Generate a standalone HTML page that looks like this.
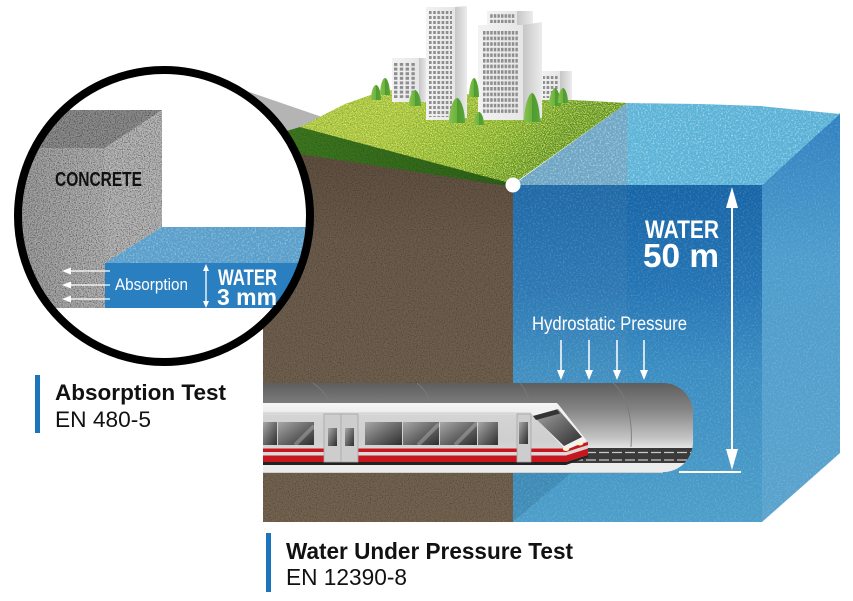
<!DOCTYPE html>
<html><head><meta charset="utf-8">
<style>
html,body{margin:0;padding:0;background:#fff;}
svg{display:block;}
text{font-family:"Liberation Sans",Arial,sans-serif;}
</style></head><body>
<svg width="853" height="601" viewBox="0 0 853 601" xmlns="http://www.w3.org/2000/svg">
<defs>
  <clipPath id="cc"><circle cx="164" cy="216" r="146"/></clipPath>
  <clipPath id="tc"><path d="M263,383 H663 A30,30 0 0 1 693,413 V442 A30,30 0 0 1 663,472 H263 Z"/></clipPath>
  <filter id="gd"><feTurbulence type="fractalNoise" baseFrequency="0.85" numOctaves="2" seed="4"/><feColorMatrix type="matrix" values="0 0 0 0 0  0 0 0 0 0  0 0 0 0 0  2.2 0 0 0 -0.95"/><feComposite operator="in" in2="SourceGraphic"/></filter>
  <filter id="gl"><feTurbulence type="fractalNoise" baseFrequency="0.6" numOctaves="2" seed="9"/><feColorMatrix type="matrix" values="0 0 0 0 1  0 0 0 0 1  0 0 0 0 1  2.4 0 0 0 -1.15"/><feComposite operator="in" in2="SourceGraphic"/></filter>
  <filter id="gy"><feTurbulence type="fractalNoise" baseFrequency="0.9" numOctaves="2" seed="7"/><feColorMatrix type="matrix" values="0 0 0 0 0.85  0 0 0 0 0.9  0 0 0 0 0.2  3 0 0 0 -1.2"/><feComposite operator="in" in2="SourceGraphic"/></filter>

  <linearGradient id="grassTop" x1="420" y1="95" x2="513" y2="185" gradientUnits="userSpaceOnUse">
    <stop offset="0" stop-color="#a2c53a"/><stop offset="0.6" stop-color="#82b42c"/><stop offset="1" stop-color="#5b9624"/>
  </linearGradient>
  <linearGradient id="grassBand" x1="0" y1="0" x2="1" y2="0">
    <stop offset="0" stop-color="#3f7b20"/><stop offset="1" stop-color="#2f6219"/>
  </linearGradient>
  <linearGradient id="soil" x1="0" y1="0" x2="0" y2="1">
    <stop offset="0" stop-color="#5e4e3e"/><stop offset="0.25" stop-color="#6c5c4c"/><stop offset="1" stop-color="#756451"/>
  </linearGradient>
  <linearGradient id="wFront" x1="0" y1="185" x2="0" y2="522" gradientUnits="userSpaceOnUse">
    <stop offset="0" stop-color="#1664a6"/><stop offset="0.3" stop-color="#2474b4"/><stop offset="0.55" stop-color="#3a8dc2"/><stop offset="1" stop-color="#4c9ec9"/>
  </linearGradient>
  <linearGradient id="wSide" x1="0" y1="113" x2="0" y2="522" gradientUnits="userSpaceOnUse">
    <stop offset="0" stop-color="#2f80c0"/><stop offset="0.35" stop-color="#4d9ccc"/><stop offset="1" stop-color="#5aa3cd"/>
  </linearGradient>
  <linearGradient id="wTop" x1="513" y1="0" x2="840" y2="0" gradientUnits="userSpaceOnUse">
    <stop offset="0" stop-color="#6ba3c2"/><stop offset="0.348" stop-color="#6fa8c6"/><stop offset="0.352" stop-color="#5cb4d8"/><stop offset="1" stop-color="#58b0d6"/>
  </linearGradient>
  <linearGradient id="tun" x1="0" y1="383" x2="0" y2="472" gradientUnits="userSpaceOnUse">
    <stop offset="0" stop-color="#5e5e5e"/><stop offset="0.3" stop-color="#858585"/><stop offset="0.62" stop-color="#c4c4c4"/><stop offset="0.72" stop-color="#e2e2e2"/><stop offset="1" stop-color="#ececec"/>
  </linearGradient>
  <linearGradient id="trainB" x1="0" y1="403" x2="0" y2="464" gradientUnits="userSpaceOnUse">
    <stop offset="0" stop-color="#f7f7f7"/><stop offset="0.15" stop-color="#eeeeee"/><stop offset="0.2" stop-color="#d4d4d4"/><stop offset="0.6" stop-color="#cfcfcf"/><stop offset="1" stop-color="#e2e2e2"/>
  </linearGradient>
  <linearGradient id="win" x1="0" y1="0" x2="1" y2="1">
    <stop offset="0" stop-color="#a8a8a8"/><stop offset="0.5" stop-color="#6a6a6a"/><stop offset="1" stop-color="#2e2e2e"/>
  </linearGradient>
  <linearGradient id="bFront" x1="0" y1="0" x2="1" y2="0">
    <stop offset="0" stop-color="#f2f2f2"/><stop offset="1" stop-color="#e6e6e6"/>
  </linearGradient>
  <linearGradient id="bSide" x1="0" y1="0" x2="1" y2="0">
    <stop offset="0" stop-color="#c6c6c6"/><stop offset="1" stop-color="#ececec"/>
  </linearGradient>
  <linearGradient id="tree" x1="0" y1="0" x2="1" y2="0">
    <stop offset="0" stop-color="#86c14a"/><stop offset="0.5" stop-color="#6cb13e"/><stop offset="0.51" stop-color="#4f9a32"/><stop offset="1" stop-color="#5aa638"/>
  </linearGradient>
  <linearGradient id="cFront" x1="0" y1="0" x2="1" y2="0">
    <stop offset="0" stop-color="#9a9a9a"/><stop offset="1" stop-color="#b4b4b4"/>
  </linearGradient>
  <pattern id="wpB" x="429" y="11" width="4.2" height="5" patternUnits="userSpaceOnUse"><rect width="2.6" height="3" fill="#8e8e8e"/></pattern>
  <pattern id="wpC" x="483" y="31" width="3.6" height="5.6" patternUnits="userSpaceOnUse"><rect width="2.5" height="3.6" fill="#8e8e8e"/></pattern>
  <pattern id="wpA" x="394" y="63" width="5.8" height="4.6" patternUnits="userSpaceOnUse"><rect width="3.4" height="3" fill="#8e8e8e"/></pattern>
</defs>

<rect width="853" height="601" fill="#fff"/>

<!-- magnifier cone -->
<polygon points="232,86 325,118 513,185 280,180" fill="#b4b4b4"/>

<!-- soil front -->
<polygon points="263,145 300,153 513,185 513,522 263,522" fill="url(#soil)"/>
<polygon points="263,145 300,153 513,185 513,522 263,522" fill="#000" filter="url(#gd)" opacity="0.35"/>

<!-- grass band -->
<polygon points="263,138 300,127 513,183 513,187 300,154 263,148" fill="url(#grassBand)"/>
<!-- grass top -->
<polygon points="300,127 345,104 385,90 500,96 627,103 513,184" fill="url(#grassTop)"/>
<polygon points="300,127 345,104 385,90 500,96 627,103 513,184" fill="#000" filter="url(#gy)" opacity="0.9"/>
<polygon points="300,127 345,104 385,90 500,96 627,103 513,184" fill="#000" filter="url(#gd)" opacity="0.25"/>
<polygon points="263,138 300,127 513,183 513,187 300,154 263,148" fill="#000" filter="url(#gd)" opacity="0.3"/>

<!-- water -->
<rect x="513" y="185" width="249" height="337" fill="url(#wFront)"/>
<rect x="513" y="185" width="114" height="230" fill="#8aa0ad" opacity="0.08"/>
<polygon points="513,472 572,472 513,522" fill="#2f6f98" opacity="0.35"/>
<polygon points="762,185 840,113 840,453 762,522" fill="url(#wSide)"/>
<polygon points="513,185 627,103 700,104 760,106 840,114 762,185" fill="url(#wTop)"/>
<polygon points="513,185 627,103 700,104 760,106 840,114 762,185" fill="#000" filter="url(#gl)" opacity="0.6"/>
<rect x="513" y="185" width="249" height="337" fill="#000" filter="url(#gl)" opacity="0.22"/>
<polygon points="762,185 840,113 840,453 762,522" fill="#000" filter="url(#gl)" opacity="0.22"/>

<!-- buildings -->
<g>
  <rect x="392" y="58" width="27" height="44" fill="url(#bFront)"/>
  <rect x="419" y="58" width="8" height="44" fill="url(#bSide)"/>
  <rect x="394" y="63" width="23" height="35" fill="url(#wpA)"/>
  <rect x="426" y="7" width="29" height="113" fill="url(#bFront)"/>
  <polygon points="455,7 467,6 467,118 455,120" fill="url(#bSide)"/>
  <rect x="429" y="11" width="23" height="106" fill="url(#wpB)"/>
  <rect x="542" y="71" width="18" height="29" fill="url(#bFront)"/>
  <rect x="560" y="71" width="12" height="29" fill="url(#bSide)"/>
  <rect x="543" y="74" width="15" height="24" fill="url(#wpB)"/>
  <rect x="487" y="11" width="30" height="14" fill="url(#bFront)"/>
  <rect x="517" y="11" width="16" height="14" fill="url(#bSide)"/>
  <rect x="490" y="14" width="25" height="9" fill="url(#wpC)"/>
  <rect x="478" y="25" width="45" height="95" fill="url(#bFront)"/>
  <polygon points="523,25 542,22 542,118 523,120" fill="url(#bSide)"/>
  <rect x="483" y="31" width="35" height="82" fill="url(#wpC)"/>
</g>

<!-- trees -->
<g fill="url(#tree)">
  <path d="M371,100 C371,90 374,85 376,85 C378,85 381,90 381,100 Z"/>
  <path d="M380,95 C380,84 383,78 385,78 C387,78 390,84 390,95 Z"/>
  <path d="M409,106 C409,96 413,90 415,90 C417,90 421,96 421,106 Z"/>
  <path d="M469,97 C469,86 472,78 474,78 C476,78 479,86 479,97 Z"/>
  <path d="M449,123 C449,108 454,98 457,98 C460,98 465,108 465,123 Z"/>
  <path d="M474,125 C474,117 477,112 479,112 C481,112 484,117 484,125 Z"/>
  <path d="M524,122 C524,106 529,93 532,93 C535,93 540,106 540,122 Z"/>
  <path d="M549,106 C549,96 553,88 555,88 C557,88 561,96 561,106 Z"/>
  <path d="M558,103 C558,94 561,88 563,88 C565,88 568,94 568,103 Z"/>
</g>

<!-- tunnel -->
<path d="M263,383 H663 A30,30 0 0 1 693,413 V442 A30,30 0 0 1 663,472 H263 Z" fill="url(#tun)"/>
<g clip-path="url(#tc)">
  <rect x="263" y="463" width="430" height="9" fill="#ececec"/>
  <rect x="560" y="448" width="135" height="15" fill="#3a3a3a"/>
  <line x1="560" y1="452.5" x2="695" y2="452.5" stroke="#c8c8c8" stroke-width="1.3" stroke-dasharray="10,3"/>
  <line x1="560" y1="460" x2="695" y2="460" stroke="#c8c8c8" stroke-width="1.3" stroke-dasharray="10,3"/>
  <g fill="none" stroke="#7a7a7a" stroke-width="0.9">
    <path d="M313,383 C326,392 333,405 334,420"/>
    <path d="M417,383 C428,392 433,405 434,420"/>
    <path d="M520,383 C528,392 531,405 532,420"/>
    <path d="M613,383 C627,395 633,418 631,447"/>
  </g>
</g>
<line x1="263" y1="472.5" x2="663" y2="472.5" stroke="#d0d0d0" stroke-width="1"/>

<!-- train -->
<polygon points="263,403 557,403 588,443 588,455 566,464 263,464" fill="url(#trainB)"/>
<line x1="263" y1="413" x2="534" y2="413" stroke="#c4c4c4" stroke-width="0.8"/>
<g fill="url(#win)">
  <rect x="263" y="422" width="14" height="23"/>
  <rect x="278" y="422" width="36" height="23"/>
  <rect x="365" y="422" width="37" height="23"/>
  <rect x="403" y="422" width="36" height="23"/>
  <rect x="440" y="422" width="37" height="23"/>
  <rect x="478" y="422" width="20" height="23"/>
</g>
<g stroke="#ffffff" stroke-opacity="0.25" stroke-width="4">
  <line x1="295" y1="445" x2="314" y2="426"/>
  <line x1="418" y1="445" x2="439" y2="424"/>
  <line x1="455" y1="445" x2="477" y2="423"/>
</g>
<polygon points="263,448.5 566,448.5 588,442 588,445 566,452 263,452" fill="#c8161e"/>
<polygon points="263,455.5 566,455.5 588,448.5 588,455 566,462 263,462" fill="#c8161e"/>
<polygon points="263,462 566,462 588,455 588,457 566,465 263,465" fill="#222"/>
<rect x="324" y="414" width="34" height="48" fill="#cdcdcd" stroke="#a6a6a6" stroke-width="0.8"/>
<line x1="341" y1="414" x2="341" y2="462" stroke="#a6a6a6" stroke-width="0.8"/>
<rect x="328" y="428" width="9" height="18" fill="url(#win)"/>
<rect x="345" y="428" width="9" height="18" fill="url(#win)"/>
<rect x="517" y="414" width="14" height="48" fill="#cdcdcd" stroke="#a6a6a6" stroke-width="0.8"/>
<rect x="519" y="422" width="9" height="22" fill="url(#win)"/>
<polygon points="529,411 558,404 587,441 566,450" fill="#f2f2f2"/>
<polygon points="533,416 558,409 582,437 564,446" fill="url(#win)"/>
<polygon points="533,416 557,409.5 560,413.5 536,420" fill="#333"/>
<ellipse cx="566" cy="449" rx="3.2" ry="2" fill="#fff4c4"/>
<ellipse cx="580" cy="443.5" rx="3.2" ry="2" fill="#fff4c4"/>

<!-- hydrostatic -->
<text x="532" y="330" font-size="19" fill="#fff" textLength="155" lengthAdjust="spacingAndGlyphs">Hydrostatic Pressure</text>
<g stroke="#fff" stroke-width="1.5">
  <line x1="561" y1="340" x2="561" y2="372"/>
  <line x1="589" y1="340" x2="589" y2="372"/>
  <line x1="617" y1="340" x2="617" y2="372"/>
  <line x1="644" y1="340" x2="644" y2="372"/>
</g>
<g fill="#fff">
  <polygon points="557,370 565,370 561,380"/>
  <polygon points="585,370 593,370 589,380"/>
  <polygon points="613,370 621,370 617,380"/>
  <polygon points="640,370 648,370 644,380"/>
</g>

<!-- big arrow -->
<line x1="732" y1="200" x2="732" y2="458" stroke="#fff" stroke-width="2"/>
<polygon points="732,187 738,208 726,208" fill="#fff"/>
<polygon points="732,470 738,449 726,449" fill="#fff"/>
<line x1="679" y1="472" x2="741" y2="472" stroke="#fff" stroke-width="2"/>
<text x="645" y="238" font-size="25" font-weight="bold" fill="#fff" textLength="74" lengthAdjust="spacingAndGlyphs">WATER</text>
<text x="643" y="267" font-size="33" font-weight="bold" fill="#fff" textLength="76" lengthAdjust="spacingAndGlyphs">50 m</text>

<circle cx="513" cy="185" r="7.5" fill="#fff"/>

<!-- magnifier circle -->
<circle cx="164" cy="216" r="146" fill="#fff"/>
<g clip-path="url(#cc)">
  <polygon points="0,110 162,110 105,148 0,148" fill="#8e8e8e"/>
  <polygon points="105,148 162,110 162,227 105,263" fill="#b9b9b9"/>
  <rect x="0" y="148" width="105" height="160" fill="url(#cFront)"/>
  <polygon points="0,110 162,110 162,227 105,263 105,308 0,308" fill="#000" filter="url(#gd)" opacity="0.6"/>
  <polygon points="105,263 162,227 320,227 320,263" fill="#5a9fcb"/>
  <polygon points="105,263 162,227 320,227 320,263" fill="#000" filter="url(#gl)" opacity="0.45"/>
  <rect x="105" y="263" width="215" height="45" fill="#2a7fc0"/>
</g>
<circle cx="164" cy="216" r="146" fill="none" stroke="#000" stroke-width="8"/>

<text x="55" y="186" font-size="20" font-weight="bold" fill="#111" textLength="87" lengthAdjust="spacingAndGlyphs">CONCRETE</text>
<g stroke="#fff" stroke-width="1.3">
  <line x1="68" y1="271" x2="110" y2="271"/>
  <line x1="68" y1="285" x2="110" y2="285"/>
  <line x1="68" y1="299" x2="110" y2="299"/>
</g>
<g fill="#fff">
  <polygon points="62,271 71,267.5 71,274.5"/>
  <polygon points="62,285 71,281.5 71,288.5"/>
  <polygon points="62,299 71,295.5 71,302.5"/>
</g>
<text x="115" y="290" font-size="17" fill="#fff" textLength="73" lengthAdjust="spacingAndGlyphs">Absorption</text>
<line x1="206" y1="270" x2="206" y2="302" stroke="#fff" stroke-width="1.3"/>
<polygon points="206,264 209,271 203,271" fill="#fff"/>
<polygon points="206,308 209,301 203,301" fill="#fff"/>
<text x="218" y="285" font-size="22" font-weight="bold" fill="#fff" textLength="59" lengthAdjust="spacingAndGlyphs">WATER</text>
<text x="217" y="305" font-size="23" font-weight="bold" fill="#fff" textLength="60" lengthAdjust="spacingAndGlyphs">3 mm</text>

<!-- labels -->
<rect x="35" y="375" width="5" height="58" fill="#1a75bc"/>
<text x="55" y="400" font-size="22" font-weight="bold" fill="#111" textLength="171" lengthAdjust="spacingAndGlyphs">Absorption Test</text>
<text x="55" y="427" font-size="22" fill="#111" textLength="96" lengthAdjust="spacingAndGlyphs">EN 480-5</text>

<rect x="266" y="533" width="5" height="59" fill="#1a75bc"/>
<text x="286" y="559" font-size="23" font-weight="bold" fill="#111" textLength="287" lengthAdjust="spacingAndGlyphs">Water Under Pressure Test</text>
<text x="286" y="585" font-size="23" fill="#111" textLength="121" lengthAdjust="spacingAndGlyphs">EN 12390-8</text>
</svg>
</body></html>
